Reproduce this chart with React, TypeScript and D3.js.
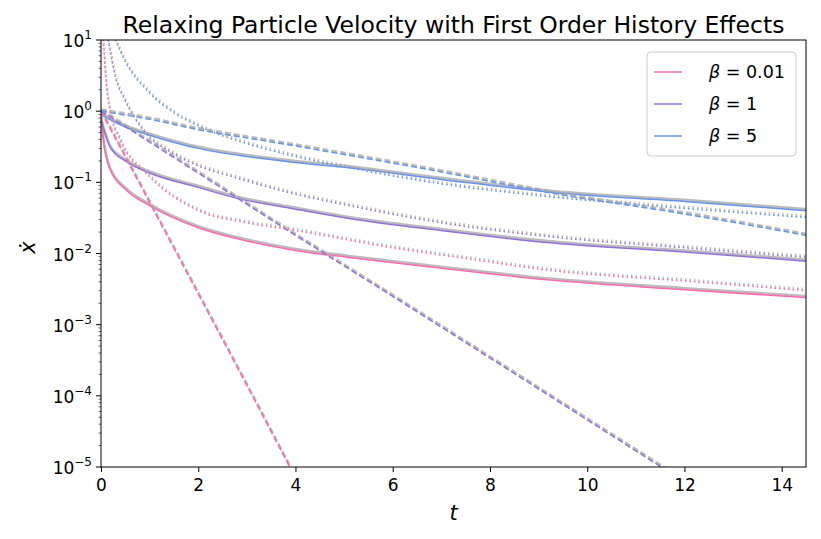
import React, { useRef, useEffect } from "react";
import * as d3 from "d3";

type Pt = [number, number];

const betas = ["0.01", "1", "5"];
const colors = ["#ff69b4", "#9370db", "#6495ed"];

// solid: full history solution
const solidPink: Pt[] = [[0, 1.0], [0.05, 0.4], [0.19, 0.15], [0.5, 0.08], [1, 0.047], [2, 0.023], [3, 0.015], [4, 0.011], [5.1, 0.0088], [7, 0.0062], [9.3, 0.0042], [12, 0.0031], [14.5, 0.0024]];
const solidPurple: Pt[] = [[0, 0.75], [0.19, 0.31], [0.5, 0.2], [1, 0.135], [2, 0.085], [2.7, 0.062], [4, 0.042], [5.1, 0.031], [7, 0.021], [9.3, 0.014], [12, 0.0105], [14.5, 0.0078]];
const solidBlue: Pt[] = [[0, 0.9], [0.2, 0.75], [0.5, 0.6], [1, 0.46], [2, 0.3], [3, 0.23], [4, 0.19], [5.1, 0.16], [7, 0.11], [9.3, 0.072], [12, 0.054], [14.5, 0.04]];
// dashed: no history
const dashPink: Pt[] = [[0, 1], [1, 0.052], [2, 0.0027], [3, 0.00014], [4, 0.000007]];
const dashPurple: Pt[] = [[0, 1], [2, 0.135], [4, 0.018], [6, 0.0025], [8, 0.00034], [10, 0.000046], [12, 0.0000062]];
const dashBlue: Pt[] = [[0, 1.0], [1, 0.77], [2, 0.55], [3.5, 0.37], [5.1, 0.24], [7, 0.14], [9.3, 0.07], [12, 0.036], [14.5, 0.018]];
// dotted: asymptotic
const dotPink: Pt[] = [[0.05, 10], [0.1, 3], [0.19, 1.0], [0.4, 0.39], [1, 0.12], [2, 0.04], [3, 0.027], [4, 0.021], [6, 0.012], [7.5, 0.0085], [9.3, 0.0057], [12, 0.0041], [14.5, 0.003]];
const dotPurple: Pt[] = [[0.15, 10], [0.3, 3], [0.5, 1.4], [0.87, 0.54], [1.5, 0.25], [2, 0.17], [2.7, 0.12], [4, 0.068], [5.1, 0.047], [7, 0.027], [9.3, 0.017], [12, 0.012], [14.5, 0.0088]];
const dotBlue: Pt[] = [[0.3, 10], [0.5, 5], [1, 1.8], [1.5, 0.95], [2, 0.62], [3, 0.35], [4, 0.23], [5.1, 0.16], [7, 0.095], [9.3, 0.062], [12, 0.043], [14.5, 0.032]];

const series = [
  { data: solidPink, c: 0, dash: "" }, { data: solidPurple, c: 1, dash: "" }, { data: solidBlue, c: 2, dash: "" },
  { data: dashPink, c: 0, dash: "6,3" }, { data: dashPurple, c: 1, dash: "6,3" }, { data: dashBlue, c: 2, dash: "6,3" },
  { data: dotPink, c: 0, dash: "1.5,3" }, { data: dotPurple, c: 1, dash: "1.5,3" }, { data: dotBlue, c: 2, dash: "1.5,3" },
];

const xTicks = [0, 2, 4, 6, 8, 10, 12, 14];
const yExps = [1, 0, -1, -2, -3, -4, -5];

const App: React.FC = () => {
  const ref = useRef<SVGSVGElement | null>(null);

  useEffect(() => {
    const W = 821, H = 539;
    const m = { top: 40, right: 15, bottom: 72, left: 101 };
    const svg = d3.select(ref.current).attr("width", W).attr("height", H);
    svg.selectAll("*").remove();
    const font = "DejaVu Sans, sans-serif";

    const x = d3.scaleLinear().domain([0, 14.5]).range([m.left, W - m.right]);
    const y = d3.scaleLog().domain([1e-5, 10]).range([H - m.bottom, m.top]);

    svg.append("defs").append("clipPath").attr("id", "clip")
      .append("rect").attr("x", m.left).attr("y", m.top)
      .attr("width", W - m.left - m.right).attr("height", H - m.top - m.bottom);

    const line = d3.line<Pt>().x((d) => x(d[0])).y((d) => y(d[1])).curve(d3.curveMonotoneX);
    const g = svg.append("g").attr("clip-path", "url(#clip)");

    series.forEach((s) => {
      g.append("path").attr("d", line(s.data)).attr("fill", "none")
        .attr("stroke", "#aaaaaa").attr("stroke-opacity", 0.8).attr("stroke-width", 2.6)
        .attr("stroke-dasharray", s.dash || null).attr("transform", "translate(0,-1.5)");
      g.append("path").attr("d", line(s.data)).attr("fill", "none")
        .attr("stroke", colors[s.c]).attr("stroke-width", 1.5)
        .attr("stroke-dasharray", s.dash || null);
    });

    // axes
    const xa = svg.append("g").attr("transform", `translate(0,${H - m.bottom})`)
      .call(d3.axisBottom(x).tickValues(xTicks).tickSize(5).tickFormat(d3.format("d")));
    xa.selectAll("text").attr("font-size", 17).attr("font-family", font).attr("fill", "#000").attr("dy", "0.95em");
    xa.select(".domain").remove();

    const ya = svg.append("g").attr("transform", `translate(${m.left},0)`);
    const minor: number[] = [];
    for (let e = -5; e < 1; e++) for (let k = 2; k < 10; k++) minor.push(k * Math.pow(10, e));
    ya.selectAll(".mn").data(minor).join("line")
      .attr("x1", -2.5).attr("x2", 0).attr("y1", (d) => y(d)).attr("y2", (d) => y(d)).attr("stroke", "#000").attr("stroke-width", 0.6);
    yExps.forEach((e) => {
      const yy = y(Math.pow(10, e));
      ya.append("line").attr("x1", -5).attr("x2", 0).attr("y1", yy).attr("y2", yy).attr("stroke", "#000");
      const t = ya.append("text").attr("x", -9).attr("y", yy + 7).attr("text-anchor", "end")
        .attr("font-family", font).attr("font-size", 17);
      t.append("tspan").text("10");
      t.append("tspan").attr("dy", -8).attr("font-size", 12).text(String(e).replace("-", "\u2212"));
    });

    svg.append("rect").attr("x", m.left).attr("y", m.top)
      .attr("width", W - m.left - m.right).attr("height", H - m.top - m.bottom)
      .attr("fill", "none").attr("stroke", "#000").attr("stroke-width", 1);

    svg.append("text").attr("x", (m.left + W - m.right) / 2).attr("y", 33).attr("text-anchor", "middle")
      .attr("font-family", font).attr("font-size", 23.5).text("Relaxing Particle Velocity with First Order History Effects");
    svg.append("text").attr("x", x(7.25)).attr("y", 520).attr("text-anchor", "middle")
      .attr("font-family", font).attr("font-size", 21).attr("font-style", "italic").text("t");
    svg.append("text").attr("transform", `translate(35,${y(0.01) - 6}) rotate(-90)`).attr("text-anchor", "middle")
      .attr("font-family", font).attr("font-size", 21).attr("font-style", "italic").text("x\u0307");

    // legend
    const lg = svg.append("g").attr("transform", "translate(647,52)");
    lg.append("rect").attr("width", 149).attr("height", 104).attr("rx", 4)
      .attr("fill", "#fff").attr("fill-opacity", 0.8).attr("stroke", "#cccccc");
    betas.forEach((b, i) => {
      const yy = 20 + i * 32;
      lg.append("line").attr("x1", 7).attr("x2", 35).attr("y1", yy).attr("y2", yy)
        .attr("stroke", colors[i]).attr("stroke-width", 1.5);
      const t = lg.append("text").attr("x", 62).attr("y", yy + 6).attr("font-family", font).attr("font-size", 17.5);
      t.append("tspan").attr("font-style", "italic").text("\u03b2");
      t.append("tspan").text(` = ${b}`);
    });
  }, []);

  return <svg ref={ref} style={{ display: "block", margin: -8 }}></svg>;
};

export default App;
